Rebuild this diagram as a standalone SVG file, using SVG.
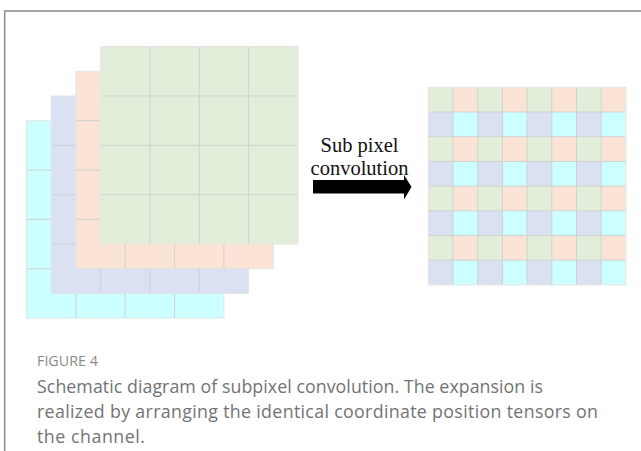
<svg xmlns="http://www.w3.org/2000/svg" xmlns:xlink="http://www.w3.org/1999/xlink" width="641" height="451" viewBox="0 0 641 451">
  <style>
    .frame { fill: none; stroke: #8c8c8c; stroke-width: 1.5; }
    .c-green { fill: #e2eed9; }
    .c-orange { fill: #fbe4d5; }
    .c-blue { fill: #d9e1f2; }
    .c-cyan { fill: #ccffff; }
    .gridline { fill: none; stroke: #cfd2cf; stroke-width: 1; }
    .edge { fill: none; stroke: #e4e4e4; stroke-width: 1; }
    .label { font-family: "Liberation Serif", "Times New Roman", serif; font-size: 20.5px; fill: #111; text-anchor: middle; }
    .fig { font-family: "Open Sans", "DejaVu Sans", sans-serif; font-size: 14.3px; fill: #8a8a8a; }
    .cap { font-family: "Open Sans", "DejaVu Sans", sans-serif; font-size: 17.8px; fill: #737373; }
  </style>
  <defs>
    <!-- 4x4 feature map: 197.4 px square, 49.35 px cells -->
    <g id="grid4">
      <path class="gridline" d="M49.35 0V197.4M98.7 0V197.4M148.05 0V197.4M0 49.35H197.4M0 98.7H197.4M0 148.05H197.4"/>
      <rect class="edge" x="0" y="0" width="197.4" height="197.4"/>
    </g>
  </defs>

  <!-- figure frame -->
  <path class="frame" d="M4.7 451V11H641"/>

  <!-- input channels, back to front -->
  <g id="channel-cyan" transform="translate(26.5,120.7)">
    <rect class="c-cyan" width="197.4" height="197.4"/>
    <use xlink:href="#grid4"/>
  </g>
  <g id="channel-blue" transform="translate(51.2,96)">
    <rect class="c-blue" width="197.4" height="197.4"/>
    <use xlink:href="#grid4"/>
  </g>
  <g id="channel-orange" transform="translate(75.9,71.3)">
    <rect class="c-orange" width="197.4" height="197.4"/>
    <use xlink:href="#grid4"/>
  </g>
  <g id="channel-green" transform="translate(100.6,46.6)">
    <rect class="c-green" width="197.4" height="197.4"/>
    <use xlink:href="#grid4"/>
  </g>

  <!-- operation label -->
  <g id="label-subpixel">
    <text class="label" x="359.5" y="151.5">Sub pixel</text>
    <text class="label" x="359.5" y="175">convolution</text>
  </g>

  <!-- connectors -->
  <g id="connectors">
    <polygon id="arrow" fill="#000" points="313,180 404,180 404,175 411.5,187 404,199.5 404,193.5 313,193.5"/>
  </g>

  <!-- output: 8x8 interleaved map -->
  <g id="output-map" transform="translate(428.3,87.3)">
    <g id="row-a">
      <rect class="c-green" x="0" y="0" width="24.7" height="24.7"/>
      <rect class="c-orange" x="24.7" y="0" width="24.7" height="24.7"/>
      <rect class="c-green" x="49.4" y="0" width="24.7" height="24.7"/>
      <rect class="c-orange" x="74.1" y="0" width="24.7" height="24.7"/>
      <rect class="c-green" x="98.8" y="0" width="24.7" height="24.7"/>
      <rect class="c-orange" x="123.5" y="0" width="24.7" height="24.7"/>
      <rect class="c-green" x="148.2" y="0" width="24.7" height="24.7"/>
      <rect class="c-orange" x="172.9" y="0" width="24.7" height="24.7"/>
    </g>
    <g id="row-b">
      <rect class="c-blue" x="0" y="24.7" width="24.7" height="24.7"/>
      <rect class="c-cyan" x="24.7" y="24.7" width="24.7" height="24.7"/>
      <rect class="c-blue" x="49.4" y="24.7" width="24.7" height="24.7"/>
      <rect class="c-cyan" x="74.1" y="24.7" width="24.7" height="24.7"/>
      <rect class="c-blue" x="98.8" y="24.7" width="24.7" height="24.7"/>
      <rect class="c-cyan" x="123.5" y="24.7" width="24.7" height="24.7"/>
      <rect class="c-blue" x="148.2" y="24.7" width="24.7" height="24.7"/>
      <rect class="c-cyan" x="172.9" y="24.7" width="24.7" height="24.7"/>
    </g>
    <use xlink:href="#row-a" y="49.4"/>
    <use xlink:href="#row-b" y="49.4"/>
    <use xlink:href="#row-a" y="98.8"/>
    <use xlink:href="#row-b" y="98.8"/>
    <use xlink:href="#row-a" y="148.2"/>
    <use xlink:href="#row-b" y="148.2"/>
    <path class="gridline" d="M24.7 0V197.6M49.4 0V197.6M74.1 0V197.6M98.8 0V197.6M123.5 0V197.6M148.2 0V197.6M172.9 0V197.6M0 24.7H197.6M0 49.4H197.6M0 74.1H197.6M0 98.8H197.6M0 123.5H197.6M0 148.2H197.6M0 172.9H197.6"/>
    <rect class="edge" x="0" y="0" width="197.6" height="197.6"/>
  </g>

  <!-- caption -->
  <g id="caption">
    <text class="fig" x="37" y="366">FIGURE 4</text>
    <text class="cap" x="37" y="393" textLength="506" lengthAdjust="spacing">Schematic diagram of subpixel convolution. The expansion is</text>
    <text class="cap" x="37" y="418" textLength="561" lengthAdjust="spacing">realized by arranging the identical coordinate position tensors on</text>
    <text class="cap" x="37" y="443" textLength="108" lengthAdjust="spacing">the channel.</text>
  </g>
</svg>
